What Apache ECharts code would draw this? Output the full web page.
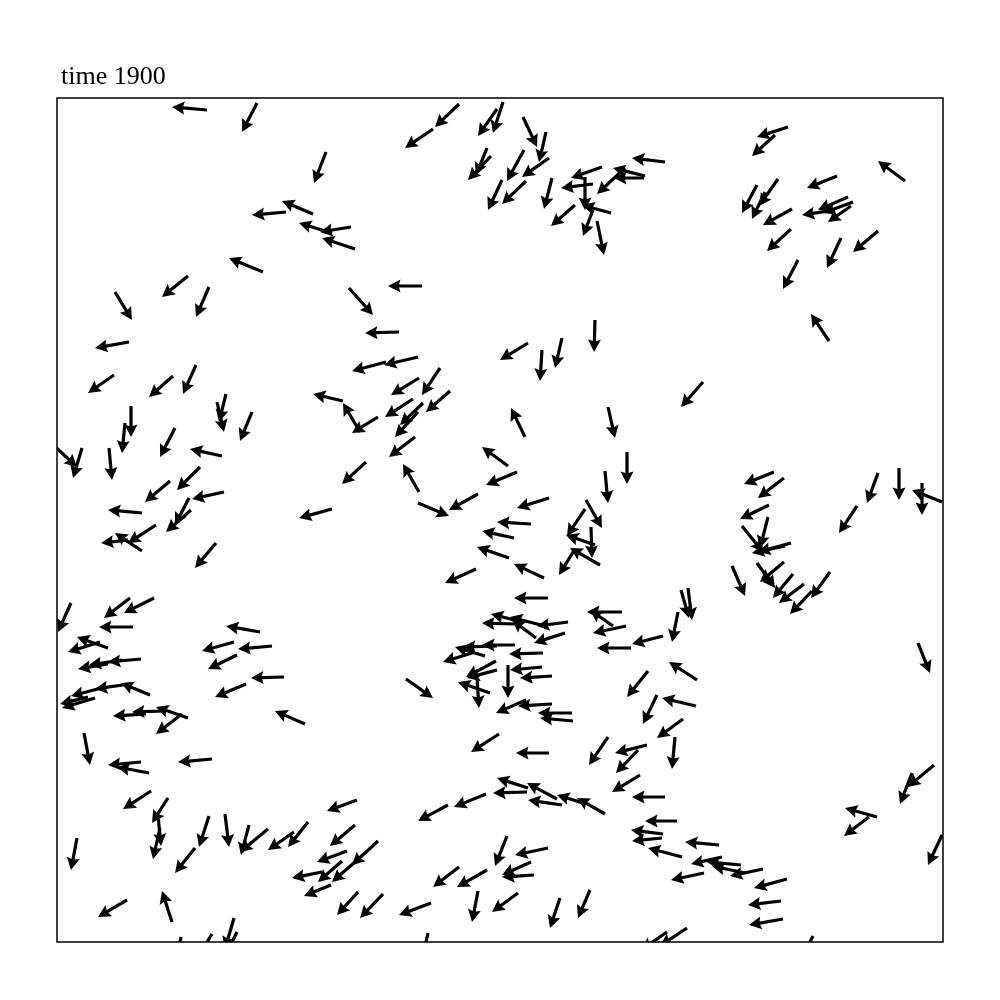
<!DOCTYPE html>
<html>
<head>
<meta charset="utf-8">
<script src="https://cdn.jsdelivr.net/npm/echarts@6/dist/echarts.min.js"></script>
<style>html,body{margin:0;padding:0;background:#fff;}#chart{width:1000px;height:1000px;}</style>
</head>
<body>
<div id="chart"></div>
<script>
// Boid positions (tail of each arrow) and velocity components, in plot units
var X = [150,200,269,256,229,294,275,298,206,131,58,152,72,402,376,440,446,466,489,430,434,467,492,445,469,495,608,588,587,568,545,536,528,554,518,536,540,365,292,342,471,538,485,505,361,329,383,731,718,848,780,700,721,708,735,791,796,794,778,734,821,784,741,772,57,116,139,74,68,25,-7,52,118,169,160,195,165,286,303,309,143,113,167,85,132,134,99,85,71,159,275,14,73,97,76,203,177,215,51,43,84,65,51,93,73,48,38,31,362,393,356,366,361,321,358,362,361,421,451,460,468,551,570,548,492,474,457,452,487,419,491,529,528,534,518,543,538,565,556,569,606,574,511,508,484,465,458,479,458,440,418,428,486,485,495,439,440,433,420,451,646,717,727,712,711,685,734,728,675,700,727,736,747,755,773,800,821,842,865,885,624,631,621,861,180,227,189,248,131,108,89,125,27,84,92,155,94,111,101,103,152,168,192,211,138,237,251,300,298,20,290,285,298,265,274,301,70,115,124,155,177,180,349,469,495,515,516,591,600,442,492,551,590,581,583,608,471,470,500,505,548,526,429,391,321,326,374,402,430,450,491,474,477,421,461,503,533,371,640,639,626,618,877,855,820,812,885,662,625,665,684,647,706,688,730,724,726,620,606,605,630,610,756];
var Y = [832,839,790,728,730,715,709,693,670,666,650,655,600,838,813,833,840,825,810,794,786,792,784,762,761,764,780,766,764,774,775,758,765,729,737,732,721,656,654,610,599,622,592,604,585,580,574,815,807,761,766,757,763,750,733,745,740,736,732,713,711,704,682,601,567,566,577,536,519,494,500,494,514,548,540,530,486,541,510,480,475,461,450,429,444,432,417,391,402,399,433,339,344,344,315,310,300,296,294,300,283,282,278,247,258,255,244,245,564,551,543,539,530,525,505,450,439,448,476,470,505,535,490,471,444,418,404,384,364,373,344,442,433,415,393,377,397,330,316,316,306,294,320,309,317,320,318,304,297,296,290,286,289,275,266,281,272,249,264,277,560,470,464,437,425,416,399,396,376,379,380,368,358,351,370,436,469,474,459,440,352,354,330,299,287,265,258,218,224,231,228,228,209,180,169,183,151,144,127,114,126,128,117,113,94,110,120,142,117,104,91,81,80,70,57,50,42,20,5,8,24,10,263,242,238,229,221,271,247,208,189,205,197,192,167,145,154,150,143,137,128,139,148,137,101,48,39,75,72,106,94,80,67,51,49,44,52,9,262,236,223,205,177,169,125,125,107,97,85,85,77,69,73,69,63,41,23,121,108,104,14,10,6];
var U = [-35,-15,-12,-31,-34,-31,-33,-33,-34,-26,17,-13,-34,-24,-28,-19,-10,14,-7,-11,-23,-17,-27,-14,-24,-8,-33,-32,-30,-28,-31,-32,0,-29,-24,-10,7,-34,24,-34,-28,-1,-2,-7,-34,-34,-18,-31,-23,-27,-30,-15,-19,-13,-29,-30,-30,-23,-33,-24,-25,-14,-15,-18,-26,-24,-13,0,-3,-9,27,3,-15,-7,7,-12,-32,-30,-17,-24,-23,-25,-32,-34,-14,-25,-28,-27,-27,-21,-33,-13,-26,-30,-34,-34,-32,-34,-31,-32,-33,-33,-30,-29,-35,-34,-33,-28,-28,-24,-28,-23,-23,-26,-26,-16,31,-29,-26,-31,-14,7,0,3,-32,-34,-32,-32,-30,-31,-34,16,-18,1,-16,-30,-29,-35,-23,-33,-31,-34,-31,-31,-31,-31,-33,-24,-33,-34,-32,-30,-34,-32,-32,-30,-30,-32,2,0,-22,-30,-26,-29,-8,21,-33,-33,13,18,-24,-20,-25,-22,-19,-18,-11,0,0,-30,8,4,-6,12,-29,-33,-31,-30,-32,-33,-33,-26,6,-33,-32,-34,-28,-16,3,-7,-10,4,-8,-28,-20,-26,-20,-30,-25,-6,-30,-24,-23,-30,-27,-21,-29,-10,-6,-17,-9,-14,27,-30,-34,-34,-33,-21,-14,-28,-33,-19,-32,-22,-28,-33,-31,-34,-30,-34,-28,-26,-32,-30,-26,-23,-32,-26,-30,-12,-33,-29,-32,-6,-26,-10,-12,-7,-28,-34,-26,-3,-26,-12,-32,-25,-14,-34,-34,-31,-34,-33,-33,-33,-33,-33,-34,-32,-32,-30,-27,-26,-15];
var V = [3,-29,-31,13,-3,-5,10,11,14,-21,-28,-30,-6,-23,-19,-27,-31,-30,-30,-27,-24,-31,-19,-30,-23,-31,4,8,0,-26,-11,-4,-33,8,-21,-26,-34,0,-27,-1,-17,-32,-31,-30,-8,-9,-27,-10,-21,20,-12,-28,-27,-27,-16,-13,-11,-16,-5,-22,-21,-30,-29,27,-18,-21,-29,-31,-30,-30,-25,-32,-29,-28,-30,-29,7,7,29,-22,-23,-21,-7,3,-27,-22,-18,18,-3,-25,-9,-29,-20,-15,0,6,-9,-3,11,-10,-3,-5,-5,12,-5,-9,-10,-7,-17,-21,-18,-22,-25,-16,-20,28,-13,-16,19,-13,29,-31,-32,-32,-10,2,7,11,14,-14,0,-28,-27,-31,-26,17,10,0,16,-7,-8,0,-4,-10,8,8,1,18,0,-1,-10,9,-1,-3,-2,-16,-8,11,-30,-33,-25,-12,-20,-14,-31,-26,-9,-7,-30,-25,-20,-24,-19,-23,-26,-27,-30,-32,-32,12,-28,-32,-30,-30,-14,-1,-13,13,11,-1,-2,-20,-32,-3,6,-3,-18,-25,-31,-31,-31,-33,-30,-23,-25,-18,-25,-11,-21,-32,-11,-21,-20,-6,-11,-23,-17,31,-31,-27,-31,-29,-19,-13,-2,0,3,-26,-29,-18,0,-28,-8,-23,-17,0,10,-1,16,5,16,8,-13,-16,-24,-24,-12,-20,-17,-30,-7,-13,-2,-31,-19,-30,-28,-31,18,8,-19,-32,-22,-31,9,-19,-30,3,9,-7,3,-7,-7,7,-9,-4,-6,0,4,-3,-18,-18,-28];

var TITLE = 'time 1900';
var X_RANGE = [0, 886];
var Y_RANGE = [0, 844];

var data = X.map(function (x, i) { return [x, Y[i], U[i], V[i]]; });

var chart = echarts.init(document.getElementById('chart'), null, {renderer: 'canvas'});

function renderArrow(params, api) {
  var x = api.value(0), y = api.value(1), u = api.value(2), v = api.value(3);
  var p0 = api.coord([x, y]);
  var p1 = api.coord([x + u, y + v]);
  var dx = p1[0] - p0[0], dy = p1[1] - p0[1];
  var L = Math.sqrt(dx * dx + dy * dy);
  if (L < 1e-6) return null;
  var ex = dx / L, ey = dy / L;
  var nx = -ey, ny = ex;
  var sw = 1.6, hw = 6.5, hl = 12.5, ha = 11;
  function pt(a, b) { return [p0[0] + ex * a + nx * b, p0[1] + ey * a + ny * b]; }
  var pts = [pt(0, sw), pt(L - ha, sw), pt(L - hl, hw), [p1[0], p1[1]], pt(L - hl, -hw), pt(L - ha, -sw), pt(0, -sw)];
  return { type: 'polygon', shape: { points: pts }, style: { fill: '#000', stroke: null } };
}

chart.setOption({
  animation: false,
  backgroundColor: '#fff',
  title: {
    text: TITLE, left: 56, top: 59,
    textStyle: { fontFamily: 'Liberation Serif', fontSize: 26, fontWeight: 'normal', color: '#000' }
  },
  grid: { left: 57, top: 98, width: 886, height: 844, show: true, borderColor: '#000', borderWidth: 1.5, backgroundColor: 'transparent' },
  xAxis: { type: 'value', min: X_RANGE[0], max: X_RANGE[1], axisLine: {show: false}, axisTick: {show: false}, axisLabel: {show: false}, splitLine: {show: false} },
  yAxis: { type: 'value', min: Y_RANGE[0], max: Y_RANGE[1], axisLine: {show: false}, axisTick: {show: false}, axisLabel: {show: false}, splitLine: {show: false} },
  series: [{ type: 'custom', renderItem: renderArrow, data: data, clip: true, silent: true }]
});
</script>
</body>
</html>
